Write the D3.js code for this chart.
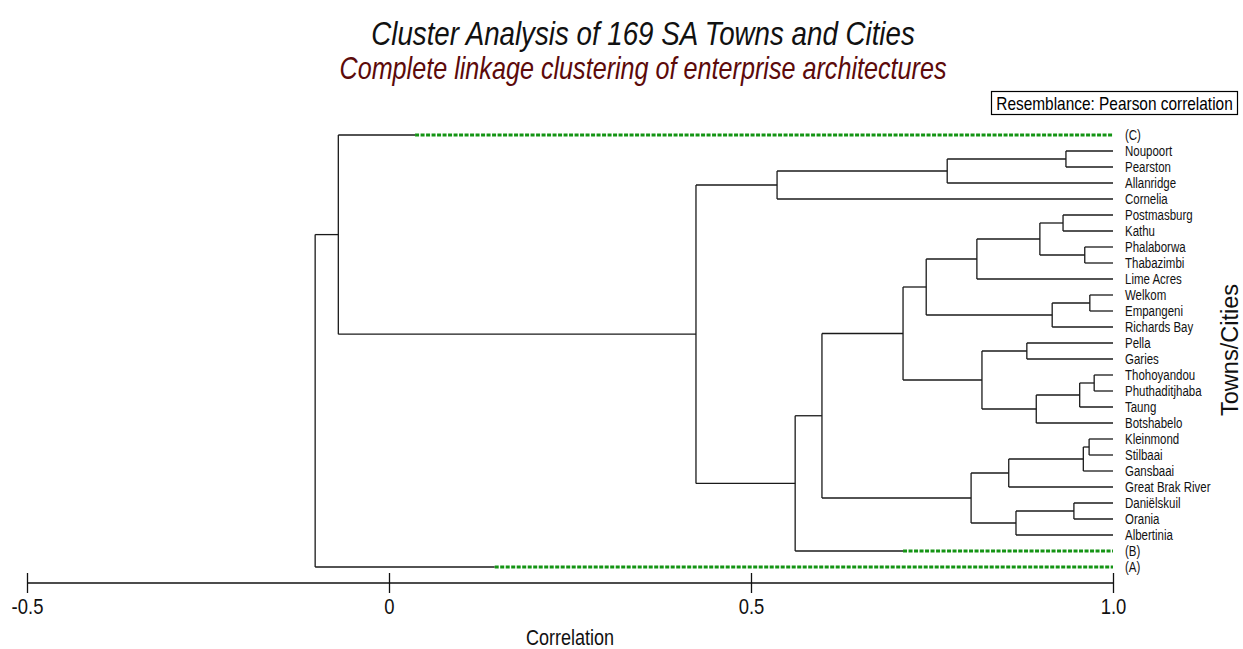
<!DOCTYPE html>
<html>
<head>
<meta charset="utf-8">
<script src="https://cdn.jsdelivr.net/npm/d3@7"></script>
<style>
  html, body { margin: 0; padding: 0; background: #fff; }
  svg { display: block; font-family: "Liberation Sans", Arial, sans-serif; }
</style>
</head>
<body>
<svg id="chart" width="1243" height="649"></svg>
<script>
// Leaves from top to bottom; (A), (B), (C) are collapsed groups
const leafLabels = [
  "(C)", "Noupoort", "Pearston", "Allanridge", "Cornelia", "Postmasburg", "Kathu",
  "Phalaborwa", "Thabazimbi", "Lime Acres", "Welkom", "Empangeni", "Richards Bay",
  "Pella", "Garies", "Thohoyandou", "Phuthaditjhaba", "Taung", "Botshabelo",
  "Kleinmond", "Stilbaai", "Gansbaai", "Great Brak River", "Daniëlskuil", "Orania",
  "Albertinia", "(B)", "(A)"
];

// Collapsed groups: leaf index and the correlation at which the group forms
const groupLeaf  = [0, 26, 27];
const groupLevel = [0.036, 0.710, 0.146];

// Merge table: a non-negative id is a leaf index, a negative id -(k+1) is merge k
const mergeLeft  = [ 1, -1, -2,  5,  7, -4, -6, 10, -8, -7, 13, 15, -12, -13, -11, -10, 19, -17, -18, 23, -20, -19, -16, -23, -3,  0, -26];
const mergeRight = [ 2,  3,  4,  6,  8, -5,  9, 11, 12, -9, 14, 16,  17,  18, -14, -15, 20,  21,  22, 24,  25, -21, -22,  26, -24, -25, 27];
const mergeLevel = [0.935, 0.771, 0.536, 0.931, 0.961, 0.899, 0.812, 0.968, 0.916, 0.742,
                    0.881, 0.974, 0.954, 0.894, 0.819, 0.710, 0.967, 0.959, 0.856, 0.946,
                    0.866, 0.804, 0.598, 0.561, 0.424, -0.070, -0.102];

const xTicks = [-0.5, 0, 0.5, 1.0];
const xTickLabels = ["-0.5", "0", "0.5", "1.0"];

const svg = d3.select("#chart");
const SQUEEZE = 0.82; // horizontal condensing for the narrow typeface

const x = d3.scaleLinear().domain([-0.5, 1.0]).range([27, 1113]);
const y = d3.scaleLinear().domain([0, leafLabels.length - 1]).range([135, 567]);

function narrowText(parent, px, py, anchor, size, txt, extra) {
  const t = parent.append("text")
    .attr("transform", `translate(${px},${py}) scale(${SQUEEZE},1)`)
    .attr("text-anchor", anchor)
    .style("font-size", size + "px")
    .attr("fill", "#111")
    .text(txt);
  if (extra) extra(t);
  return t;
}

// Titles
narrowText(svg, 643, 45, "middle", 33.8, "Cluster Analysis of 169 SA Towns and Cities",
  t => t.style("font-style", "italic"));
narrowText(svg, 643, 79, "middle", 30.7, "Complete linkage clustering of enterprise architectures",
  t => t.style("font-style", "italic").attr("fill", "#5c0a0a"));

// Resemblance box
svg.append("rect")
  .attr("x", 991.5).attr("y", 91.5).attr("width", 246).attr("height", 23)
  .attr("fill", "#fff").attr("stroke", "#000").attr("stroke-width", 1.2);
narrowText(svg, 1114.5, 109.5, "middle", 18.8, "Resemblance: Pearson correlation",
  t => t.attr("fill", "#000"));

// Node positions
const leafY = leafLabels.map((d, i) => y(i));
const mergeY = [];
function yOf(id) { return id >= 0 ? leafY[id] : mergeY[-id - 1]; }
function levelOf(id) { return id >= 0 ? 1.0 : mergeLevel[-id - 1]; }
mergeLevel.forEach((lv, k) => {
  mergeY[k] = (yOf(mergeLeft[k]) + yOf(mergeRight[k])) / 2;
});

const tree = svg.append("g")
  .attr("fill", "none").attr("stroke", "#1a1a1a").attr("stroke-width", 1.3);
const green = svg.append("g")
  .attr("fill", "none").attr("stroke", "#149414").attr("stroke-width", 3)
  .attr("stroke-dasharray", "4,1.5");

mergeLevel.forEach((lv, k) => {
  const kids = [mergeLeft[k], mergeRight[k]];
  tree.append("line")
    .attr("x1", x(lv)).attr("x2", x(lv))
    .attr("y1", yOf(kids[0])).attr("y2", yOf(kids[1]));
  kids.forEach(id => {
    const gi = groupLeaf.indexOf(id);
    const end = gi >= 0 ? groupLevel[gi] : levelOf(id);
    tree.append("line")
      .attr("x1", x(lv)).attr("x2", x(end))
      .attr("y1", yOf(id)).attr("y2", yOf(id));
    if (gi >= 0) {
      green.append("line")
        .attr("x1", x(end)).attr("x2", x(1.0))
        .attr("y1", yOf(id)).attr("y2", yOf(id));
    }
  });
});

// Leaf labels
const labelG = svg.append("g");
leafLabels.forEach((d, i) => {
  narrowText(labelG, x(1.0) + 12, y(i), "start", 14, d, t => t.attr("dy", "0.35em"));
});

// Axis title on the right
svg.append("text")
  .attr("transform", "translate(1238,350) rotate(-90)")
  .attr("text-anchor", "middle")
  .style("font-size", "23.5px")
  .attr("fill", "#111")
  .text("Towns/Cities");

// Bottom axis
const axisY = 583;
const axisG = svg.append("g").attr("transform", `translate(0,${axisY})`);
axisG.call(d3.axisBottom(x).tickValues(xTicks).tickSize(0).tickFormat((d, i) => xTickLabels[i]));
axisG.attr("font-family", null).attr("font-size", null);
axisG.select(".domain").attr("stroke", "#111").attr("stroke-width", 1.5).attr("d", `M${x(-0.5)},0H${x(1.0)}`);
axisG.selectAll(".tick line")
  .attr("y1", -10).attr("y2", 10).attr("stroke", "#111").attr("stroke-width", 1.3);
axisG.selectAll(".tick text")
  .attr("y", 0).attr("dy", 0)
  .attr("transform", `translate(0,31) scale(${SQUEEZE},1)`)
  .style("font-size", "22.5px")
  .attr("fill", "#111");

narrowText(svg, 570, 645, "middle", 22, "Correlation");
</script>
</body>
</html>
